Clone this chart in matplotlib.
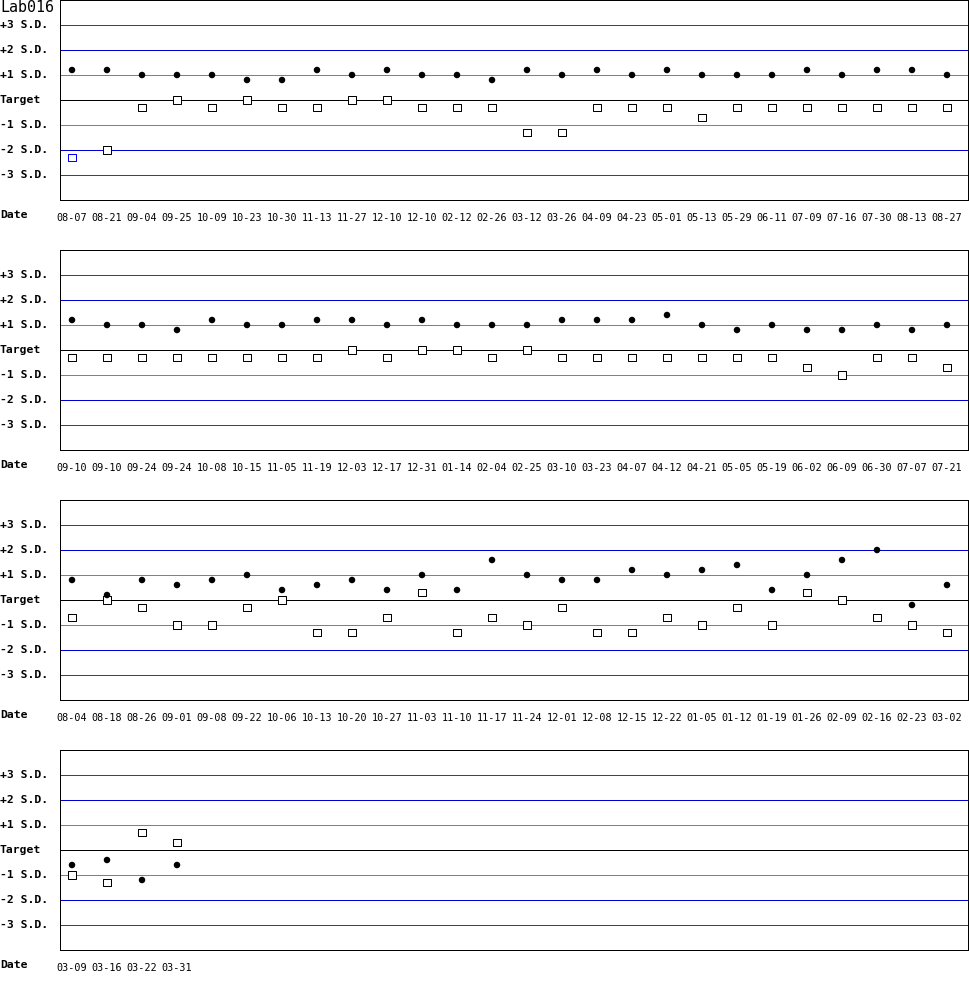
import matplotlib
matplotlib.use("Agg")
import matplotlib.pyplot as plt
from matplotlib.transforms import blended_transform_factory

title = "Lab016"
sd_labels = ["+3 S.D.", "+2 S.D.", "+1 S.D.", "Target", "-1 S.D.", "-2 S.D.", "-3 S.D."]
sd_levels = [3, 2, 1, 0, -1, -2, -3]

dates1 = ["08-07", "08-21", "09-04", "09-25", "10-09", "10-23", "10-30", "11-13", "11-27", "12-10",
          "12-10", "02-12", "02-26", "03-12", "03-26", "04-09", "04-23", "05-01", "05-13", "05-29",
          "06-11", "07-09", "07-16", "07-30", "08-13", "08-27"]
dots1 = [1.2, 1.2, 1.0, 1.0, 1.0, 0.8, 0.8, 1.2, 1.0, 1.2,
         1.0, 1.0, 0.8, 1.2, 1.0, 1.2, 1.0, 1.2, 1.0, 1.0,
         1.0, 1.2, 1.0, 1.2, 1.2, 1.0]
squares1 = [-2.3, -2.0, -0.3, 0.0, -0.3, 0.0, -0.3, -0.3, 0.0, 0.0,
            -0.3, -0.3, -0.3, -1.3, -1.3, -0.3, -0.3, -0.3, -0.7, -0.3,
            -0.3, -0.3, -0.3, -0.3, -0.3, -0.3]

dates2 = ["09-10", "09-10", "09-24", "09-24", "10-08", "10-15", "11-05", "11-19", "12-03", "12-17",
          "12-31", "01-14", "02-04", "02-25", "03-10", "03-23", "04-07", "04-12", "04-21", "05-05",
          "05-19", "06-02", "06-09", "06-30", "07-07", "07-21"]
dots2 = [1.2, 1.0, 1.0, 0.8, 1.2, 1.0, 1.0, 1.2, 1.2, 1.0,
         1.2, 1.0, 1.0, 1.0, 1.2, 1.2, 1.2, 1.4, 1.0, 0.8,
         1.0, 0.8, 0.8, 1.0, 0.8, 1.0]
squares2 = [-0.3, -0.3, -0.3, -0.3, -0.3, -0.3, -0.3, -0.3, 0.0, -0.3,
            0.0, 0.0, -0.3, 0.0, -0.3, -0.3, -0.3, -0.3, -0.3, -0.3,
            -0.3, -0.7, -1.0, -0.3, -0.3, -0.7]

dates3 = ["08-04", "08-18", "08-26", "09-01", "09-08", "09-22", "10-06", "10-13", "10-20", "10-27",
          "11-03", "11-10", "11-17", "11-24", "12-01", "12-08", "12-15", "12-22", "01-05", "01-12",
          "01-19", "01-26", "02-09", "02-16", "02-23", "03-02"]
dots3 = [0.8, 0.2, 0.8, 0.6, 0.8, 1.0, 0.4, 0.6, 0.8, 0.4,
         1.0, 0.4, 1.6, 1.0, 0.8, 0.8, 1.2, 1.0, 1.2, 1.4,
         0.4, 1.0, 1.6, 2.0, -0.2, 0.6]
squares3 = [-0.7, 0.0, -0.3, -1.0, -1.0, -0.3, 0.0, -1.3, -1.3, -0.7,
            0.3, -1.3, -0.7, -1.0, -0.3, -1.3, -1.3, -0.7, -1.0, -0.3,
            -1.0, 0.3, 0.0, -0.7, -1.0, -1.3]

dates4 = ["03-09", "03-16", "03-22", "03-31"]
dots4 = [-0.6, -0.4, -1.2, -0.6]
squares4 = [-1.0, -1.3, 0.7, 0.3]

panels = [(dates1, dots1, squares1), (dates2, dots2, squares2),
          (dates3, dots3, squares3), (dates4, dots4, squares4)]

W, H = 970, 1000
fig = plt.figure(figsize=(W / 100, H / 100), dpi=100)
fig.patch.set_facecolor("white")

mono = "DejaVu Sans Mono"
line_colors = {3: "#e00000", 2: "#0000d0", 1: "#808080", 0: "#000000",
               -1: "#808080", -2: "#0000d0", -3: "#e00000"}

left_px, right_px = 60, 968
first_x, step = 72, 35
LW = 0.72  # one pixel at 100 dpi

def pcol(v):
    return "#0000ff" if abs(v) > 2 else "#000000"

for k, (dates, dots, squares) in enumerate(panels):
    top = k * 250
    bottom = top + 200
    ax = fig.add_axes([left_px / W, 1 - bottom / H, (right_px - left_px) / W, 200 / H])
    ax.set_xlim((left_px - first_x) / step, (right_px - first_x) / step)
    ax.set_ylim(-4, 4)
    for lv in sd_levels:
        ax.axhline(lv, color=line_colors[lv], lw=LW, zorder=1, antialiased=False)
    for s in ax.spines.values():
        s.set_linewidth(LW)
        s.set_color("black")
    xs = list(range(len(dates)))
    ax.scatter(xs, squares, marker="s", s=28, facecolors="white",
               edgecolors=[pcol(v) for v in squares], linewidths=LW, zorder=3)
    ax.scatter(xs, dots, marker="o", s=22, c=[pcol(v) for v in dots],
               linewidths=0, zorder=4)
    ax.set_yticks([])
    ax.set_xticks(xs)
    ax.set_xticklabels(dates, fontfamily=mono, fontsize=7.3)
    ax.tick_params(axis="x", length=0, pad=9.5)
    tr = blended_transform_factory(fig.transFigure, ax.transData)
    for lv, lab in zip(sd_levels, sd_labels):
        ax.text(0.0, lv, lab, transform=tr, ha="left", va="center",
                fontfamily=mono, fontweight="bold", fontsize=8.2)
    fig.text(0.0, 1 - (bottom + 15) / H, "Date", ha="left", va="center",
             fontfamily=mono, fontweight="bold", fontsize=8.2)

fig.text(0.0, 1 - 8 / H, title, ha="left", va="center", fontfamily=mono, fontsize=10.8)

fig.savefig("out.png", dpi=100, facecolor="white")
